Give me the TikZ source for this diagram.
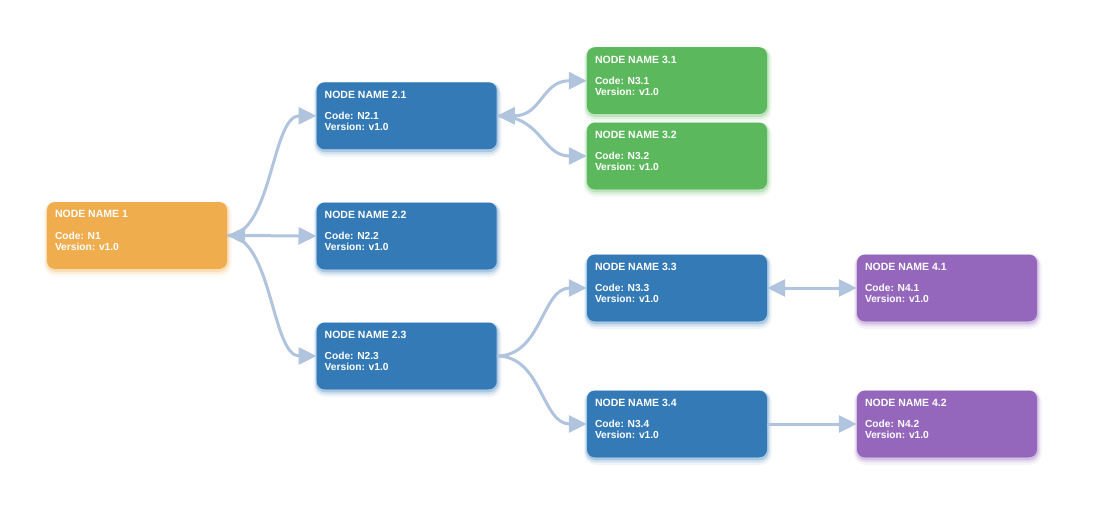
\documentclass[tikz,border=0pt]{standalone}
\usepackage{fontspec}
\setmainfont{Liberation Sans}
\usetikzlibrary{arrows.meta}
\definecolor{cOrange}{HTML}{F0AD4E}
\definecolor{cBlue}{HTML}{337AB7}
\definecolor{cGreen}{HTML}{5CB85C}
\definecolor{cPurple}{HTML}{9467BD}
\definecolor{cLine}{HTML}{B0C4DE}
\newcommand\boxtext[2]{\parbox[c][67pt][t]{164pt}{\lineskip=0pt\lineskiplimit=0pt%
\fontsize{10.5}{12}\selectfont\rule{0pt}{15.8pt}#1\par
\fontsize{10.2}{11}\selectfont\rule{0pt}{21.2pt}Code: #2\par
Version: v1.0}}
\tikzset{
  nbox/.style={rectangle, rounded corners=8pt, minimum width=180pt, minimum height=67pt,
    inner sep=0pt, fill=#1, text=white, font=\bfseries,
    preaction={draw=#1, line width=8pt, opacity=0.08, transform canvas={shift={(0.8pt,-3.5pt)}}},
    preaction={draw=#1, line width=5pt, opacity=0.14, transform canvas={shift={(0.6pt,-2.5pt)}}},
    preaction={draw=#1, line width=2.5pt, opacity=0.25, transform canvas={shift={(0.4pt,-1.5pt)}}}},
  conn/.style={draw=cLine, line width=3pt, -{Triangle[length=18pt,width=17pt]}},
  bconn/.style={draw=cLine, line width=3pt, {Triangle[length=18pt,width=17pt]}-{Triangle[length=18pt,width=17pt]}}
}
\begin{document}
\begin{tikzpicture}[x=1pt,y=-1pt]
\useasboundingbox (0,0) rectangle (1106,520);
\node[nbox=cOrange] (n1)  at (137,235.5) {\boxtext{NODE NAME 1}{N1}};
\node[nbox=cBlue]   (n21) at (406.7,115.8) {\boxtext{NODE NAME 2.1}{N2.1}};
\node[nbox=cBlue]   (n22) at (406.7,236) {\boxtext{NODE NAME 2.2}{N2.2}};
\node[nbox=cBlue]   (n23) at (406.7,356) {\boxtext{NODE NAME 2.3}{N2.3}};
\node[nbox=cGreen]  (n31) at (677,80.7) {\boxtext{NODE NAME 3.1}{N3.1}};
\node[nbox=cGreen]  (n32) at (677,156) {\boxtext{NODE NAME 3.2}{N3.2}};
\node[nbox=cBlue]   (n33) at (677,288) {\boxtext{NODE NAME 3.3}{N3.3}};
\node[nbox=cBlue]   (n34) at (677,424) {\boxtext{NODE NAME 3.4}{N3.4}};
\node[nbox=cPurple] (n41) at (947,288) {\boxtext{NODE NAME 4.1}{N4.1}};
\node[nbox=cPurple] (n42) at (947,424) {\boxtext{NODE NAME 4.2}{N4.2}};

\draw[conn]  (n1.east) .. controls +(45,0) and +(-45,0) .. (n21.west);
\draw[bconn] (n1.east) -- (n22.west);
\draw[conn]  (n1.east) .. controls +(45,0) and +(-45,0) .. (n23.west);
\draw[bconn] (n21.east) .. controls +(45,0) and +(-45,0) .. (n31.west);
\draw[conn]  (n21.east) .. controls +(45,0) and +(-45,0) .. (n32.west);
\draw[conn]  (n23.east) .. controls +(45,0) and +(-45,0) .. (n33.west);
\draw[conn]  (n23.east) .. controls +(45,0) and +(-45,0) .. (n34.west);
\draw[bconn] (n33.east) -- (n41.west);
\draw[conn]  (n34.east) -- (n42.west);
\end{tikzpicture}
\end{document}
